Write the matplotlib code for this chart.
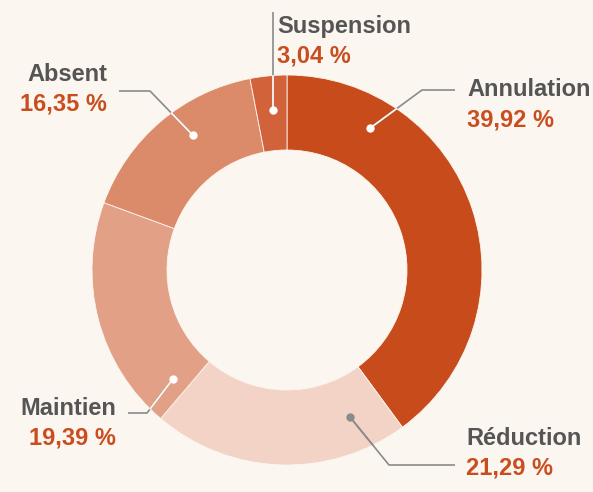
import numpy as np
import matplotlib
matplotlib.use("Agg")
import matplotlib.pyplot as plt

labels = ["Annulation", "Réduction", "Maintien", "Absent", "Suspension"]
values = [39.92, 21.29, 19.39, 16.35, 3.04]
value_text = ["39,92 %", "21,29 %", "19,39 %", "16,35 %", "3,04 %"]
colors = ["#c84c1b", "#f3d3c5", "#e2a186", "#db8a6a", "#d2623a"]

BG = "#fbf6f0"
W, H = 593, 492
cx, cy = 287, H - 270
r_out, r_in = 195, 120

# leader layout: dot (angle deg, radius), elbow (px), end x (px), text anchor
leaders = {
    "Annulation": dict(ang=59.7, r=164, elbow=(422, 90), end=455, tx=467, ty=96, ha="left"),
    "Réduction": dict(ang=293.2, r=160, elbow=(389, 465), end=455, tx=466, ty=445, ha="left"),
    "Maintien": dict(ang=223.7, r=158, elbow=(147, 413), end=128, tx=116, ty=415, ha="right"),
    "Absent": dict(ang=124.9, r=164, elbow=(150, 91), end=119, tx=107, ty=81, ha="right"),
    "Suspension": dict(ang=95.0, r=161, elbow=None, end=12, tx=277, ty=33, ha="left"),
}
value_dy = 30

plt.rcParams["font.family"] = ["Liberation Sans", "DejaVu Sans"]
fig = plt.figure(figsize=(W / 100, H / 100), dpi=100, facecolor=BG)
ax = fig.add_axes([0, 0, 1, 1])
ax.set_facecolor(BG)

ax.pie(values, colors=colors, startangle=90, counterclock=False,
       radius=r_out, center=(cx, cy), frame=True,
       wedgeprops=dict(width=r_out - r_in, edgecolor=BG, linewidth=0.6))
ax.set_xlim(0, W)
ax.set_ylim(0, H)
ax.set_aspect("equal")
ax.axis("off")

for lab, vt in zip(labels, value_text):
    L = leaders[lab]
    a = np.radians(L["ang"])
    dx, dy = cx + L["r"] * np.cos(a), cy + L["r"] * np.sin(a)
    if L["elbow"] is None:
        pts = [(dx, dy), (dx, H - L["end"])]
    else:
        ex, ey = L["elbow"][0], H - L["elbow"][1]
        pts = [(dx, dy), (ex, ey), (L["end"], ey)]
    xs, ys = zip(*pts)
    ax.plot(xs, ys, color="#8a8a8a", lw=1.2, solid_capstyle="butt", zorder=3)
    inner = "#8a8a8a" if lab == "Réduction" else "white"
    # white part of the leader inside the ring
    x1, y1 = pts[1]
    t = np.linspace(0, 1, 200)
    px, py = dx + (x1 - dx) * t, dy + (y1 - dy) * t
    inside = np.hypot(px - cx, py - cy) <= r_out
    ax.plot(px[inside], py[inside], color=inner, lw=1.2, zorder=4)
    ax.plot(dx, dy, "o", color=inner, ms=6, mec="none", zorder=5)

    ax.text(L["tx"], H - L["ty"], lab, ha=L["ha"], va="baseline",
            fontsize=17, fontweight="bold", color="#555555")
    ax.text(L["tx"], H - L["ty"] - value_dy, vt, ha=L["ha"], va="baseline",
            fontsize=17, fontweight="bold", color="#c94d1e")

fig.savefig("out.png", dpi=100, facecolor=BG)
